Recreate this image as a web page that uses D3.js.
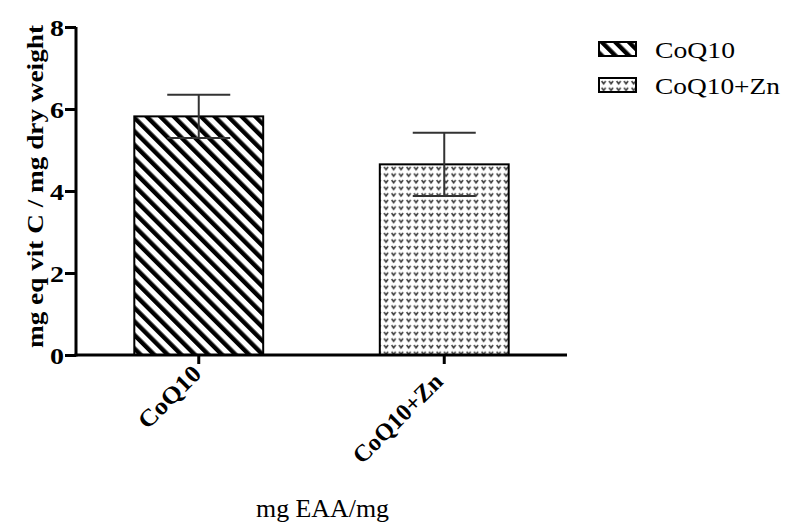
<!DOCTYPE html>
<html><head><meta charset="utf-8">
<script src="https://cdn.jsdelivr.net/npm/d3@7"></script>
<style>body{margin:0;background:#fff}svg{display:block}text{font-family:"Liberation Serif","Times New Roman",serif;fill:#000}</style>
</head><body>
<script>
const categories = ["CoQ10", "CoQ10+Zn"];
const means = [5.82, 4.65];
const sems = [0.53, 0.77];
const yTicks = [0, 2, 4, 6, 8];
const yLabel = "mg eq vit C / mg dry weight";
const xLabel = "mg EAA/mg";

const W = 789, H = 526;
const svg = d3.select("body").append("svg").attr("width", W).attr("height", H);
const defs = svg.append("defs");

// stripe pattern
const sp = defs.append("pattern").attr("id", "stripes").attr("patternUnits", "userSpaceOnUse")
  .attr("width", 9.6).attr("height", 20).attr("patternTransform", "rotate(-45)");
sp.append("rect").attr("width", 9.6).attr("height", 20).attr("fill", "#fff");
sp.append("rect").attr("x", 0).attr("width", 4.4).attr("height", 20).attr("fill", "#000");

// dotted pattern
const dp = defs.append("pattern").attr("id", "dots").attr("patternUnits", "userSpaceOnUse")
  .attr("width", 7.5).attr("height", 6.6);
dp.append("rect").attr("width", 7.5).attr("height", 6.6).attr("fill", "#fff");
dp.append("path").attr("d", "M1.6,1.8 L3.6,4.6 L5.6,1.8").attr("fill", "none").attr("stroke", "#3a3a3a").attr("stroke-width", 1.6);

const fills = ["url(#stripes)", "url(#dots)"];

const x = d3.scaleBand().domain(categories).range([76, 567]).padding(0);
const y = d3.scaleLinear().domain([0, 8]).range([355, 27]);
const barW = x.bandwidth() * 0.525;
const capW = 63;

// bars
svg.selectAll("rect.bar").data(categories).join("rect").attr("class", "bar")
  .attr("x", d => x(d) + x.bandwidth() / 2 - barW / 2)
  .attr("y", (d, i) => y(means[i]))
  .attr("width", barW)
  .attr("height", (d, i) => y(0) - y(means[i]))
  .attr("fill", (d, i) => fills[i])
  .attr("stroke", "#000").attr("stroke-width", 2);

// error bars
const eb = svg.append("g").attr("stroke", "#333").attr("stroke-width", 2);
categories.forEach((c, i) => {
  const cx = x(c) + x.bandwidth() / 2;
  const lo = y(means[i] - sems[i]), hi = y(means[i] + sems[i]);
  eb.append("line").attr("x1", cx).attr("x2", cx).attr("y1", lo).attr("y2", hi);
  eb.append("line").attr("x1", cx - capW / 2).attr("x2", cx + capW / 2).attr("y1", hi).attr("y2", hi);
  eb.append("line").attr("x1", cx - capW / 2).attr("x2", cx + capW / 2).attr("y1", lo).attr("y2", lo);
});

// y axis
const ya = svg.append("g").attr("transform", "translate(76,0)")
  .call(d3.axisLeft(y).tickValues(yTicks).tickSize(11).tickPadding(3).tickFormat(d3.format("d")));
ya.attr("font-family", null).attr("font-size", null);
ya.select(".domain").attr("stroke", "#000").attr("stroke-width", 3).attr("d", `M0,${y(8)}V${y(0)+1.5}`);
ya.selectAll(".tick line").attr("stroke", "#000").attr("stroke-width", 3);
ya.selectAll(".tick text").style("font-weight", "bold").style("font-size", "23px")
  .attr("textLength", 14).attr("lengthAdjust", "spacingAndGlyphs")
  .attr("dy", "0.35em").attr("x", -12);

// x axis
const xa = svg.append("g").attr("transform", `translate(0,${y(0)})`)
  .call(d3.axisBottom(x).tickSize(9).tickFormat(""));
xa.attr("font-family", null).attr("font-size", null);
xa.select(".domain").attr("stroke", "#000").attr("stroke-width", 3).attr("d", "M74.5,0H567");
xa.selectAll(".tick line").attr("stroke", "#000").attr("stroke-width", 3);
xa.selectAll(".tick").append("text")
  .attr("text-anchor", "end")
  .attr("transform", (d, i) => i === 0 ? "translate(4,20) rotate(-45)" : "translate(0,28) rotate(-45)")
  .style("font-weight", "bold").style("font-size", "24px")
  .attr("textLength", (d, i) => i === 0 ? 78 : 116).attr("lengthAdjust", "spacingAndGlyphs")
  .text(d => d);

// y label
svg.append("text").attr("transform", `translate(43,${(25 + 348) / 2}) rotate(-90)`)
  .attr("text-anchor", "middle").style("font-weight", "bold").style("font-size", "24px")
  .attr("textLength", 323).attr("lengthAdjust", "spacingAndGlyphs")
  .text(yLabel);

// x label
svg.append("text").attr("x", 256).attr("y", 517)
  .style("font-size", "25px").attr("textLength", 133).attr("lengthAdjust", "spacingAndGlyphs")
  .text(xLabel);

// legend
const lg = svg.append("g");
const legY = [42, 78];
categories.forEach((c, i) => {
  lg.append("rect").attr("x", 599).attr("y", legY[i]).attr("width", 37).attr("height", 14)
    .attr("fill", fills[i]).attr("stroke", "#000").attr("stroke-width", 2);
  lg.append("text").attr("x", 655).attr("y", legY[i] + 16).style("font-size", "23px")
    .attr("textLength", i === 0 ? 80 : 125).attr("lengthAdjust", "spacingAndGlyphs").text(c);
});
</script>
</body></html>
